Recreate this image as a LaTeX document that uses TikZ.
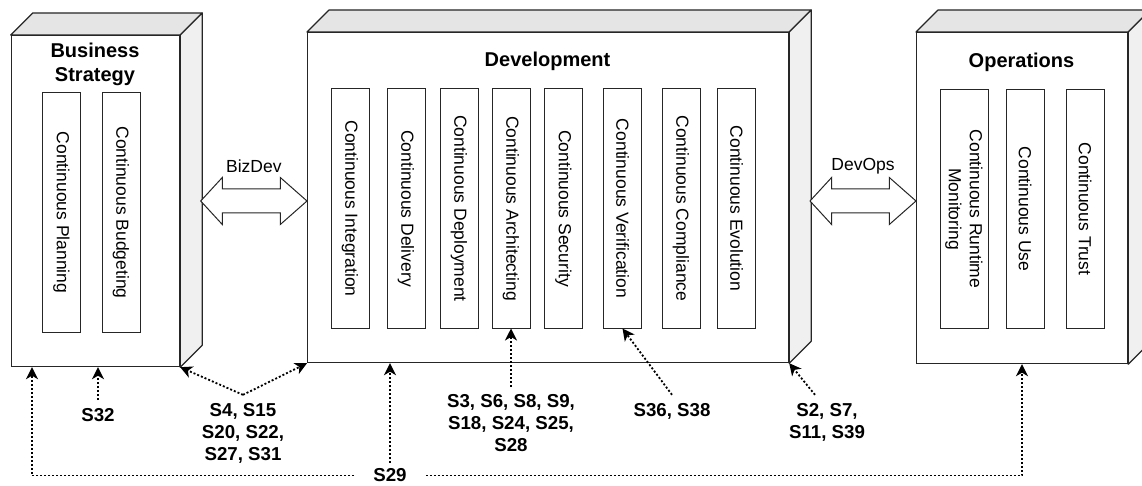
\documentclass[tikz,border=0pt]{standalone}
\usepackage{fontspec}
\setmainfont{Liberation Sans}
\usetikzlibrary{arrows.meta,calc}

\begin{document}
\begin{tikzpicture}[
x=1pt,y=-1pt,
stage/.style={
  draw=black!85,
  line width=1.2pt,
  fill=white,
  anchor=north west,
  inner sep=0pt
},
cubetop/.style={draw=black!85,line width=1.2pt,fill=black!10,line join=round},
cubeside/.style={draw=black!85,line width=1.2pt,fill=black!6,line join=round},
stagetitle/.style={
  font=\fontsize{20}{24}\selectfont\bfseries,
  align=center
},
practice/.style={
  draw=black!85,
  line width=1pt,
  rotate=-90,
  minimum width=239pt,
  minimum height=38pt,
  inner sep=2pt,
  align=center,
  font=\fontsize{17.5}{21}\selectfont
},
handover/.style={draw=black!85,fill=white,line width=1pt,line join=miter},
studyref/.style={
  font=\fontsize{18.7}{22}\selectfont\bfseries,
  align=center,
  inner xsep=2pt,
  inner ysep=8pt
},
evidence/.style={
  draw=black,
  line width=1.8pt,
  dash pattern=on 2pt off 2pt,
  -{Stealth[length=12pt,width=12pt,inset=3.5pt]}
}
]
\clip (0,0) rectangle (1142,486);

% the three stages as boxes
\node[stage,minimum width=168.3pt,minimum height=331pt] (biz) at (10.7,35) {};
\node[stage,minimum width=481pt,minimum height=330pt] (dev) at (307,32) {};
\node[stage,minimum width=211pt,minimum height=331pt] (ops) at (916,32) {};

\foreach \c in {biz,dev,ops}{
  \draw[cubetop] (\c.north west) -- ++(22,-22) -- ($(\c.north east)+(22,-22)$) -- (\c.north east) -- cycle;
  \draw[cubeside] (\c.north east) -- ++(22,-22) -- ($(\c.south east)+(22,-22)$) -- (\c.south east) -- cycle;
}

\node[stagetitle] (biztitle) at (95,64) {Business\\Strategy};
\node[stagetitle] (devtitle) at (547.5,61) {Development};
\node[stagetitle] (opstitle) at (1021.5,62) {Operations};

% continuous practices
\node[practice] (plan) at (61.5,212.5) {Continuous Planning};
\node[practice] (budget) at (121,212.5) {Continuous Budgeting};

\node[practice] (integ) at (350,208.5) {Continuous Integration};
\node[practice] (deliv) at (406,208.5) {Continuous Delivery};
\node[practice] (deploy) at (459,208.5) {Continuous Deployment};
\node[practice] (arch) at (511,208.5) {Continuous Architecting};
\node[practice] (secur) at (563.5,208.5) {Continuous Security};
\node[practice] (verif) at (622.5,208.5) {Continuous Verification};
\node[practice] (compl) at (681,208.5) {Continuous Compliance};
\node[practice] (evol) at (736.5,208.5) {Continuous Evolution};

\node[practice,minimum height=48pt] (monit) at (964,209) {Continuous Runtime\\Monitoring};
\node[practice] (use) at (1025,209) {Continuous Use};
\node[practice] (trust) at (1085,209) {Continuous Trust};

% BizDev and DevOps
\coordinate (bd-l) at (200.7,201);
\coordinate (bd-r) at (dev.west |- bd-l);
\coordinate (do-l) at (810,201);
\coordinate (do-r) at (ops.west |- do-l);

\foreach \a/\b/\txt in {bd-l/bd-r/BizDev,do-l/do-r/DevOps}{
  \draw[handover] (\a) -- ++(21.6,-23.5) -- ++(0,11.5) -- ($(\b)+(-26.7,-12)$) -- ++(0,-11.5)
    -- (\b) -- ++(-26.7,23.5) -- ++(0,-11.5) -- ($(\a)+(21.6,12)$) -- ++(0,11.5) -- cycle;
  \node[font=\fontsize{17.5}{21}\selectfont] at ($(\a)!0.5!(\b)+(0,-35)$) {\txt};
}

% studies
\node[studyref] (s32) at (98,415) {S32};
\node[studyref] (s4) at (243,433) {S4, S15\\S20, S22,\\S27, S31};
\node[studyref] (s3) at (511,423.5) {S3, S6, S8, S9,\\S18, S24, S25,\\S28};
\node[studyref] (s36) at (672,411) {S36, S38};
\node[studyref] (s2) at (827,422) {S2, S7,\\S11, S39};
\node[studyref,inner xsep=19pt,inner ysep=6pt] (s29) at (390,475.5) {S29};

\coordinate (bizloop) at ($(biz.south west)+(21.3,0)$);
\coordinate (opsloop) at (1022,0 |- ops.south);
\coordinate (s2in) at ($(s2.north)+(-12,0)$);

\draw[evidence] (s32) -- (s32 |- biz.south);
\draw[evidence] (s4.north) -- (biz.south east);
\draw[evidence] (s4.north) -- (dev.south west);
\draw[evidence] (s3) -- (arch.east);
\draw[evidence] (s36.north) -- (verif.east);
\draw[evidence] (s2in) -- (dev.south east);
\draw[evidence] (s29.west) -| (bizloop);
\draw[evidence] (s29.east) -| (opsloop);
\draw[evidence] (s29) -- (s29 |- dev.south);

\end{tikzpicture}
\end{document}
